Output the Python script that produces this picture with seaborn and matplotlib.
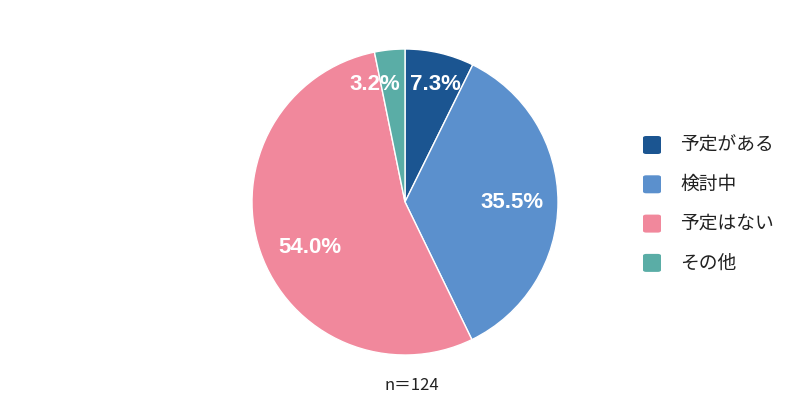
import matplotlib
matplotlib.use("Agg")
import matplotlib.pyplot as plt
from matplotlib.patches import FancyBboxPatch
import seaborn as sns
import numpy as np

categories = ["予定がある", "検討中", "予定はない", "その他"]
values = [7.3, 35.5, 54.0, 3.2]
colors = ["#1b5591", "#5b90cd", "#f1889c", "#5aada6"]
n_label = "n＝124"

sns.set_theme(style="white")
plt.rcParams['font.family'] = ['Noto Sans CJK JP', 'DejaVu Sans']

fig = plt.figure(figsize=(8, 4.2), dpi=100)
R = 153
cx, cy = 405, 202
ax = fig.add_axes([(cx - R) / 800, (420 - cy - R) / 420, 2 * R / 800, 2 * R / 420])

wedges, texts, autotexts = ax.pie(
    values, colors=colors, startangle=90, counterclock=False,
    autopct=lambda p: f"{p:.1f}%", pctdistance=0.70,
    wedgeprops=dict(edgecolor="white", linewidth=1.0),
    radius=1.0,
)
for v, w, t in zip(values, wedges, autotexts):
    t.set_color("white")
    t.set_fontsize(16)
    t.set_fontweight("bold")
    t.set_fontfamily(["Liberation Sans", "DejaVu Sans"])
    mid = (w.theta1 + w.theta2) / 2
    ang = np.deg2rad(mid)
    if v < 10:
        side = np.sign(np.cos(ang))
        t.set_position((side * 0.03, 0.77))
        t.set_ha("left" if side > 0 else "right")
    elif v > 50:
        ang2 = ang + np.deg2rad(7)
        t.set_position((0.69 * np.cos(ang2), 0.69 * np.sin(ang2)))
ax.set_xlim(-1, 1)
ax.set_ylim(-1, 1)
ax.set_aspect("equal")
ax.axis("off")

# legend
for i, (lab, col) in enumerate(zip(categories, colors)):
    y = 145 + i * 39.3
    sq = FancyBboxPatch(((643) / 800, (420 - y - 9) / 420), 18 / 800, 18 / 420,
                        boxstyle="round,pad=0,rounding_size=0.004",
                        transform=fig.transFigure, facecolor=col, edgecolor="none")
    fig.patches.append(sq)
    fig.text(680 / 800, (420 - y) / 420, lab, fontsize=13.5, va="center", ha="left", color="#222222")

fig.text(412 / 800, (420 - 386) / 420, n_label, fontsize=12, ha="center", va="center", color="#222222")

fig.savefig("out.png", dpi=100, facecolor="white")
